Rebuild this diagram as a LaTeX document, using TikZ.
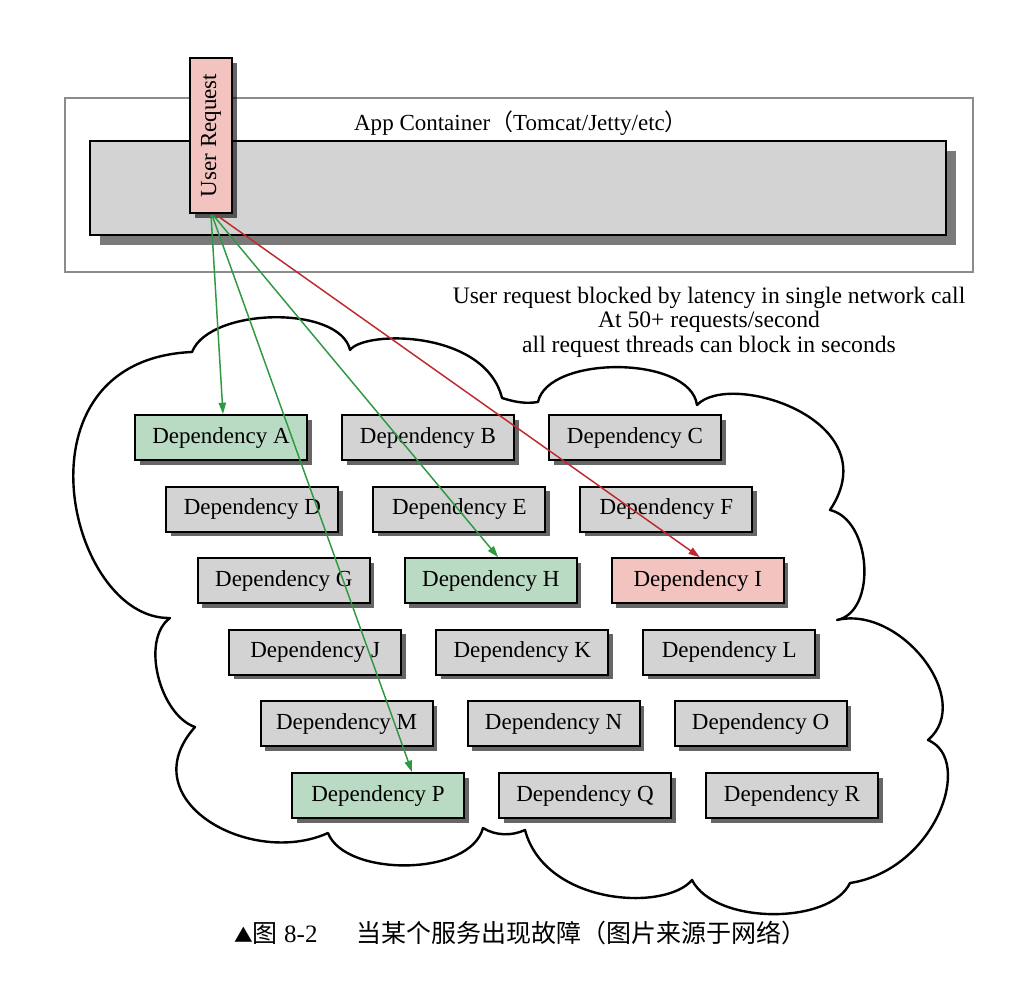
\documentclass[tikz,border=0pt]{standalone}
\usepackage{fontspec}
\setmainfont{Liberation Serif}
\newfontfamily\cjk{Noto Sans CJK SC}
\usetikzlibrary{shadows,arrows.meta}

\definecolor{depgray}{HTML}{D3D3D3}
\definecolor{depgreen}{HTML}{BADBC3}
\definecolor{deppink}{HTML}{F3C3C0}
\definecolor{arrowgreen}{HTML}{2E9940}
\definecolor{arrowred}{HTML}{C0282C}
\definecolor{framegray}{HTML}{8C8C8C}
\definecolor{shadowgray}{HTML}{7A7A7A}
\newcommand\depfont{\fontsize{17.25}{18.4}\selectfont}
\newcommand\notefont{\fontsize{17.7}{18.4}\selectfont}
\newcommand\capfont{\fontsize{18.75}{20}\selectfont}

\begin{document}
\begin{tikzpicture}[x=0.75pt,y=-0.75pt,
  boxshadow/.style={drop shadow={shadow xshift=3.5pt, shadow yshift=-3.5pt, fill=black, opacity=0.6}},
  dep/.style={draw=black, line width=1.5pt, fill=depgray, minimum width=129pt,
    minimum height=33.75pt, inner sep=0pt, font=\depfont, boxshadow},
  depok/.style={dep, fill=depgreen},
  depbad/.style={dep, fill=deppink},
  outerbox/.style={draw=framegray, line width=1.5pt, fill=white, minimum width=681pt,
    minimum height=130.5pt, inner sep=0pt},
  innerbox/.style={draw=black, line width=1.5pt, fill=depgray, minimum width=642pt,
    minimum height=70.5pt, inner sep=0pt,
    drop shadow={shadow xshift=7.5pt, shadow yshift=-7.5pt, fill=shadowgray, opacity=1}},
  urbox/.style={draw=black, line width=1.5pt, fill=deppink, minimum width=116.25pt,
    minimum height=31.5pt, inner sep=0pt, font=\depfont, boxshadow},
  cloudline/.style={draw=black, line width=1.8pt, line join=round},
  okarrow/.style={draw=arrowgreen, line width=1.1pt, -{Triangle[length=8.5pt,width=5.5pt]}},
  badarrow/.style={draw=arrowred, line width=1.1pt, -{Triangle[length=8.5pt,width=5.5pt]}},
  plaintext/.style={inner sep=0pt, font=\depfont, align=center}
]
\useasboundingbox (0,0) rectangle (1012,988);

% containers
\node[outerbox] (outer) at (519,185) {};
\node[innerbox] (app) at (518,188) {};
\node[plaintext] (applabel) at (521,123) {App Container{\cjk （}Tomcat/Jetty/etc{\cjk ）}};
\node[urbox, rotate=90] (ur) at (211,135.5) {User Request};

% cloud
\draw[cloudline] (192,352)
  .. controls (210,307) and (340,305) .. (350,350)
  .. controls (365,330) and (485,330) .. (502,398)
  .. controls (515,402) and (525,404) .. (538,402)
  .. controls (548,355) and (690,355) .. (697,405)
  .. controls (730,370) and (890,420) .. (830,510)
  .. controls (872,520) and (877,612) .. (837,620)
  .. controls (900,605) and (975,700) .. (928,740)
  .. controls (975,760) and (935,870) .. (850,883)
  .. controls (830,925) and (715,925) .. (692,880)
  .. controls (665,912) and (545,905) .. (525,830)
  .. controls (512,836) and (496,836) .. (483,828)
  .. controls (470,877) and (345,877) .. (328,833)
  .. controls (250,868) and (130,800) .. (195,727)
  .. controls (160,715) and (140,640) .. (170,618)
  .. controls (68,620) and (8,360) .. cycle;

% note
\node[plaintext, font=\notefont] (note) at (709,322) {User request blocked by latency in single network call\\At 50+ requests/second\\all request threads can block in seconds};

% dependencies
\node[depok]  (A) at (221,437.5)   {Dependency A};
\node[dep]    (B) at (428,437.5)   {Dependency B};
\node[dep]    (C) at (635,437.5)   {Dependency C};
\node[dep]    (D) at (252.4,509.1) {Dependency D};
\node[dep]    (E) at (459.4,509.1) {Dependency E};
\node[dep]    (F) at (666.4,509.1) {Dependency F};
\node[dep]    (G) at (283.8,580.7) {Dependency G};
\node[depok]  (H) at (490.8,580.7) {Dependency H};
\node[depbad] (I) at (697.8,580.7) {Dependency I};
\node[dep]    (J) at (315.2,652.3) {Dependency J};
\node[dep]    (K) at (522.2,652.3) {Dependency K};
\node[dep]    (L) at (729.2,652.3) {Dependency L};
\node[dep]    (M) at (346.6,723.9) {Dependency M};
\node[dep]    (N) at (553.6,723.9) {Dependency N};
\node[dep]    (O) at (760.6,723.9) {Dependency O};
\node[depok]  (P) at (378,795.5)   {Dependency P};
\node[dep]    (Q) at (585,795.5)   {Dependency Q};
\node[dep]    (R) at (792,795.5)   {Dependency R};

% calls
\draw[okarrow] ([yshift=-0.75pt]ur.west) -- ([xshift=1.5pt]A.north);
\draw[okarrow] ([yshift=-0.75pt,xshift=0.75pt]ur.west) -- ([xshift=25.5pt]P.north);
\draw[okarrow] ([yshift=-0.75pt,xshift=1.5pt]ur.west) -- ([xshift=5.5pt]H.north);
\draw[badarrow] ([yshift=-0.75pt,xshift=4pt]ur.west) -- ([xshift=1.5pt]I.north);

% caption
\node[inner sep=0pt, anchor=west, font=\capfont] (caption) at (234,933)
  {{\cjk\fontsize{14}{14}\selectfont ▲}{\cjk 图}~8-2\hspace{29pt}{\cjk 当某个服务出现故障（图片来源于网络）}};
\end{tikzpicture}
\end{document}
